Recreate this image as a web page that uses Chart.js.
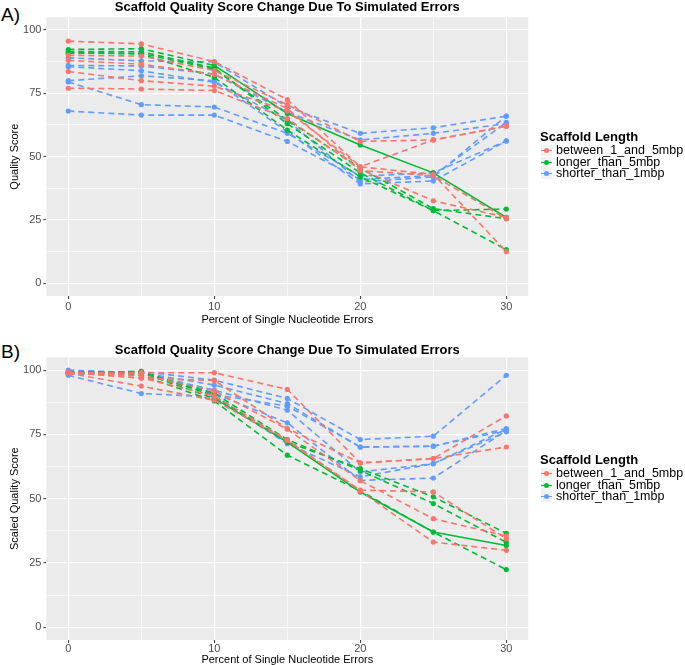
<!DOCTYPE html>
<html>
<head>
<meta charset="utf-8">
<script src="https://cdn.jsdelivr.net/npm/chart.js@4.4.0/dist/chart.umd.min.js"></script>
<style>
  body { margin: 0; width: 685px; height: 665px; overflow: hidden; background: #fff; position: relative;
         font-family: 'Liberation Sans', Arial, sans-serif; }
  .wrap { position: absolute; left: 0; width: 685px; }
  #wrapA { top: 0; height: 326px; }
  #wrapB { top: 343px; height: 323px; }
  .tag { position: absolute; left: 1px; font-size: 19px; line-height: 20px; color: #000; }
  .legend { position: absolute; left: 540px; color: #000; }
  .legend .lt { font-weight: bold; font-size: 13px; line-height: 16px; }
  .legend .li { font-size: 12.5px; line-height: 11.5px; height: 11.5px; white-space: nowrap; position: relative; padding-left: 16px; }
  .legend .key { position: absolute; left: 1px; top: 0; width: 11px; height: 11px; background: #f2f2f2; }
  .legend .key i { position: absolute; left: 3px; top: 3px; width: 5px; height: 5px; border-radius: 50%; }
  .legend .key b { position: absolute; left: 0; top: 5px; width: 11px; height: 1.2px; }
</style>
</head>
<body>
<div class="tag" style="top:5px">A)</div>
<div class="tag" style="top:342px">B)</div>
<div class="wrap" id="wrapA"><canvas id="chartA"></canvas></div>
<div class="wrap" id="wrapB"><canvas id="chartB"></canvas></div>
<div class="legend" id="legendA" style="top:129px"></div>
<div class="legend" id="legendB" style="top:452px"></div>

<script>
const percents = [0, 5, 10, 15, 20, 25, 30];
const groupNames = ['between_1_and_5mbp', 'longer_than_5mbp', 'shorter_than_1mbp'];
const groupColors = ['#F8766D', '#00BA38', '#619CFF'];
const yTicksMajor = [0, 25, 50, 75, 100];
const xTicksMajor = [0, 10, 20, 30];

// A) quality score, one row per scaffold
const aBetween = [
    [95.6, 94.5, 87.5, 72.5, 46.0, 43.0, 12.5],
    [90.0, 89.7, 84.0, 70.5, 56.0, 56.6, 62.0],
    [83.6, 80.0, 77.8, 68.0, 46.0, 56.6, 62.0],
    [77.0, 76.7, 76.1, 65.0, 45.0, 32.6, 26.0],
    [88.0, 86.5, 82.5, 69.0, 44.5, 42.5, 25.5]
];
const aLonger = [
    [92.3, 92.6, 86.0, 67.0, 54.6, 43.6, 26.0],
    [91.5, 91.4, 85.0, 63.0, 43.6, 28.7, 29.3],
    [91.0, 90.5, 81.3, 60.5, 42.0, 28.7, 13.3],
    [90.8, 90.8, 84.5, 64.5, 45.5, 29.5, 25.5]
];
const aShorter = [
    [89.0, 87.8, 87.4, 69.6, 59.2, 61.4, 66.0],
    [86.0, 85.8, 82.6, 67.6, 56.6, 59.2, 63.0],
    [85.5, 83.9, 79.3, 64.4, 40.0, 42.0, 66.0],
    [80.0, 81.9, 80.0, 59.8, 39.2, 40.4, 56.2],
    [79.5, 70.5, 69.6, 59.2, 42.3, 43.6, 56.2],
    [68.0, 66.4, 66.4, 56.0, 41.0, 42.5, 63.5]
];

// B) scaled quality score
const bBetween = [
    [99.0, 99.0, 99.0, 92.5, 63.9, 65.6, 82.2],
    [99.2, 96.8, 96.0, 77.3, 63.9, 65.6, 70.1],
    [98.8, 93.8, 88.3, 72.7, 53.3, 52.6, 34.4],
    [99.0, 98.0, 92.0, 77.0, 57.0, 42.2, 35.5],
    [99.0, 97.0, 90.0, 72.7, 53.0, 33.1, 29.9]
];
const bLonger = [
    [99.0, 99.0, 89.0, 72.0, 52.6, 37.0, 31.8],
    [99.0, 99.5, 90.0, 72.0, 61.7, 50.7, 36.5],
    [98.8, 98.0, 88.0, 66.9, 53.0, 37.0, 22.4],
    [99.2, 99.0, 91.0, 73.0, 61.0, 48.1, 33.0]
];
const bShorter = [
    [99.0, 99.5, 96.1, 89.0, 73.0, 74.3, 98.0],
    [99.0, 99.0, 94.2, 87.0, 70.1, 70.4, 77.3],
    [98.5, 99.0, 92.2, 84.4, 60.4, 63.6, 76.0],
    [99.5, 99.3, 91.0, 79.5, 57.1, 58.0, 76.5],
    [98.0, 90.9, 89.6, 71.4, 58.5, 63.6, 77.0],
    [100.0, 99.0, 90.5, 86.0, 70.1, 70.4, 76.5]
];

const NARROW = "'Liberation Sans Narrow', 'Liberation Sans', Arial, sans-serif";

const panelBg = {
    id: 'panelBg',
    beforeDraw(chart) {
        const { ctx, chartArea: a } = chart;
        ctx.save();
        ctx.fillStyle = '#ebebeb';
        ctx.fillRect(a.left, a.top, a.right - a.left, a.bottom - a.top);
        ctx.restore();
    }
};

function buildDatasets(groups) {
    const sets = [];
    groups.forEach((rows, g) => {
        rows.forEach((row, r) => {
            // the first "longer" scaffold is drawn solid from 10% onward
            const solidFrom = (g === 1 && r === 0) ? 2 : 99;
            sets.push({
                label: groupNames[g],
                data: row.map((v, i) => ({ x: percents[i], y: v })),
                borderColor: groupColors[g],
                backgroundColor: groupColors[g],
                borderWidth: 1.6,
                borderDash: [6, 4],
                segment: {
                    borderDash: ctx => ctx.p0DataIndex >= solidFrom ? [] : [6, 4]
                },
                pointRadius: 2.6,
                pointBorderWidth: 0,
                pointBackgroundColor: groupColors[g],
                tension: 0
            });
        });
    });
    return sets;
}

function gridOpts(isMajor) {
    return {
        color: '#ffffff',
        lineWidth: ctx => (ctx.tick && isMajor(ctx.tick.value)) ? 1.2 : 0.6,
        tickColor: ctx => (ctx.tick && isMajor(ctx.tick.value)) ? '#333333' : 'rgba(0,0,0,0)',
        tickLength: 3,
        tickWidth: 1
    };
}

function makeChart(id, groups, yTitle, titleGap, xPad) {
    const yMajor = v => yTicksMajor.includes(v);
    const xMajor = v => xTicksMajor.includes(v);
    return new Chart(document.getElementById(id), {
        type: 'line',
        data: { datasets: buildDatasets(groups) },
        plugins: [panelBg],
        options: {
            responsive: true,
            maintainAspectRatio: false,
            animation: false,
            layout: { padding: { left: 0, right: 156.8, top: 0, bottom: 0 } },
            plugins: {
                legend: { display: false },
                tooltip: { enabled: false },
                title: {
                    display: true,
                    fullSize: false,
                    text: 'Scaffold Quality Score Change Due To Simulated Errors',
                    color: '#000000',
                    font: { family: NARROW, weight: 'bold', size: 13, lineHeight: 1.1 },
                    padding: { top: 0, bottom: titleGap }
                }
            },
            scales: {
                x: {
                    type: 'linear',
                    min: -1.5,
                    max: 31.5,
                    afterBuildTicks: s => { s.ticks = percents.map(v => ({ value: v })); },
                    ticks: {
                        autoSkip: false,
                        maxRotation: 0,
                        color: '#4d4d4d',
                        padding: xPad,
                        font: { family: NARROW, size: 11, lineHeight: 1.0 },
                        callback: v => xMajor(v) ? v : ''
                    },
                    grid: gridOpts(xMajor),
                    border: { display: false },
                    title: {
                        display: true,
                        text: 'Percent of Single Nucleotide Errors',
                        color: '#000000',
                        font: { family: NARROW, size: 11, lineHeight: 1.0 },
                        padding: { top: 0, bottom: 1 }
                    }
                },
                y: {
                    type: 'linear',
                    min: -5,
                    max: 105,
                    afterBuildTicks: s => {
                        s.ticks = [0, 12.5, 25, 37.5, 50, 62.5, 75, 87.5, 100].map(v => ({ value: v }));
                    },
                    afterFit: s => { s.width = 46.4; },
                    ticks: {
                        autoSkip: false,
                        color: '#4d4d4d',
                        padding: 2,
                        font: { family: NARROW, size: 11 },
                        callback: v => yMajor(v) ? v : ''
                    },
                    grid: gridOpts(yMajor),
                    border: { display: false },
                    title: {
                        display: true,
                        text: yTitle,
                        color: '#000000',
                        font: { family: NARROW, size: 11, lineHeight: 1.2 },
                        padding: { top: 8, bottom: 0 }
                    }
                }
            }
        }
    });
}

function renderLegend(id) {
    const box = document.getElementById(id);
    let html = '<div class="lt">Scaffold Length</div>';
    groupNames.forEach((name, i) => {
        html += `<div class="li"><span class="key"><b style="background:${groupColors[i]}"></b><i style="background:${groupColors[i]}"></i></span>${name}</div>`;
    });
    box.innerHTML = html;
}

makeChart('chartA', [aBetween, aLonger, aShorter], 'Quality Score', 3, 2);
makeChart('chartB', [bBetween, bLonger, bShorter], 'Scaled Quality Score', 0, 0);
renderLegend('legendA');
renderLegend('legendB');
</script>
</body>
</html>
